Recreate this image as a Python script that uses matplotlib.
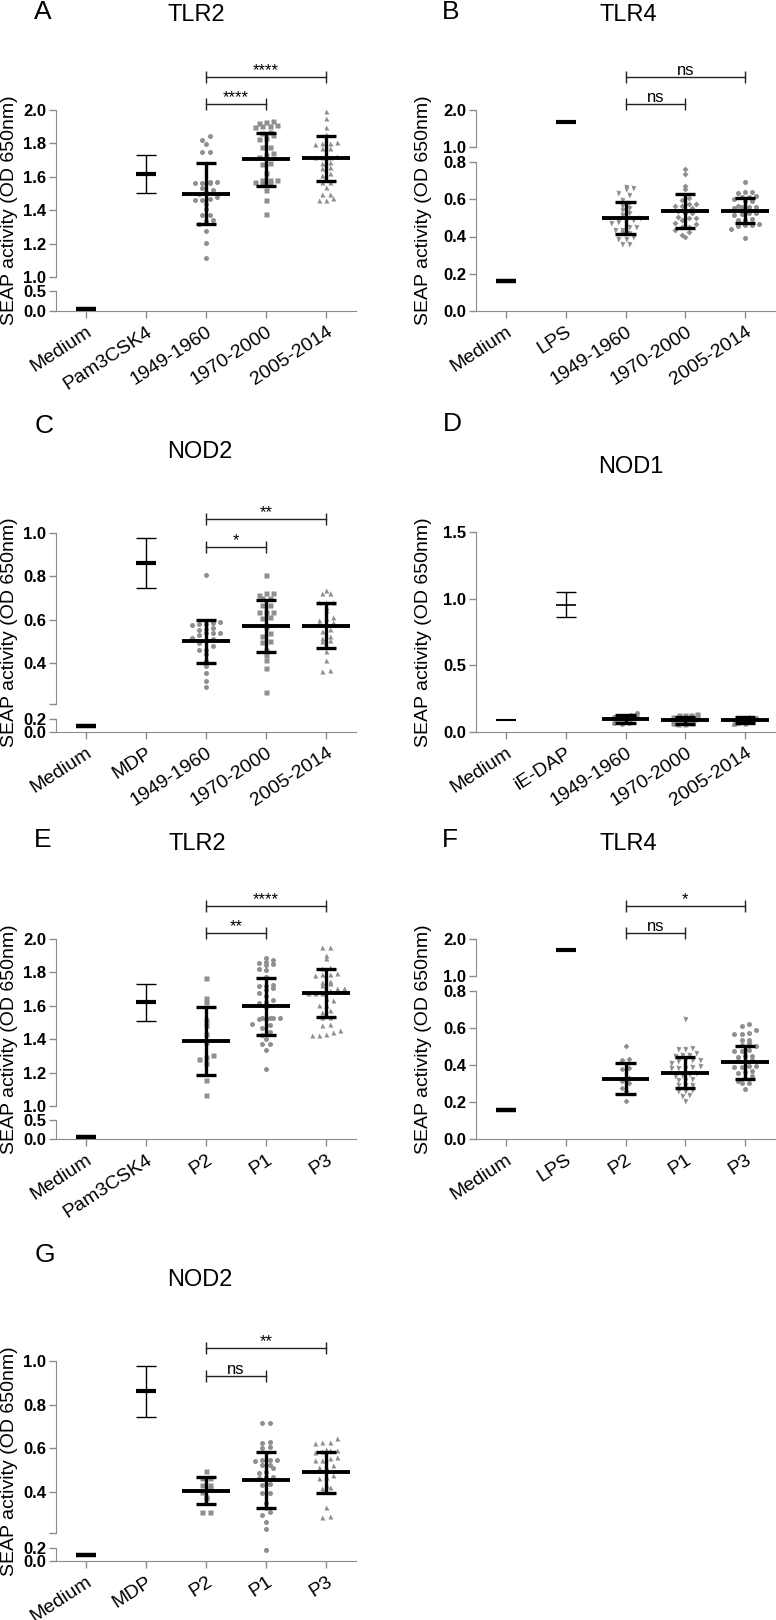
import numpy as np
import matplotlib.pyplot as plt
import matplotlib.transforms as mtrans

plt.rcParams['font.family'] = ['Liberation Sans', 'DejaVu Sans']

# ---------------- data ----------------
yr_labels = ['1949-1960', '1970-2000', '2005-2014']
p_labels = ['P2', 'P1', 'P3']

# A  TLR2
A_labels = ['Medium', 'Pam3CSK4'] + yr_labels
A_ctrl_mean = [0.06, 1.616]
A_ctrl_sd = [0.0, 0.112]
A_g1 = [1.844, 1.82, 1.796, 1.75, 1.75, 1.57, 1.564, 1.57, 1.56, 1.564, 1.51, 1.52, 1.466, 1.464,
        1.46, 1.436, 1.41, 1.37, 1.37, 1.34, 1.336, 1.316, 1.274, 1.206, 1.116, 1.50, 1.48, 1.53]
A_g2 = [1.93, 1.936, 1.924, 1.90, 1.904, 1.904, 1.91, 1.87, 1.864, 1.85, 1.83, 1.824, 1.78, 1.78,
        1.73, 1.74, 1.72, 1.684, 1.676, 1.624, 1.58, 1.58, 1.58, 1.554, 1.56, 1.57, 1.52, 1.46, 1.38]
A_g3 = [1.996, 1.95, 1.90, 1.854, 1.804, 1.81, 1.80, 1.796, 1.77, 1.77, 1.724, 1.72, 1.72, 1.72,
        1.69, 1.684, 1.66, 1.65, 1.62, 1.61, 1.57, 1.57, 1.54, 1.50, 1.50, 1.476, 1.464, 1.46]
A_mean = [1.50, 1.705, 1.71]
A_sd = [0.18, 0.16, 0.135]
A_sig = ['****', '****']

# B  TLR4
B_labels = ['Medium', 'LPS'] + yr_labels
B_ctrl_mean = [0.161, 1.68]
B_ctrl_sd = [0.0, 0.0]
B_g1 = [0.66, 0.665, 0.654, 0.636, 0.624, 0.597, 0.582, 0.552, 0.564, 0.543, 0.525, 0.516, 0.498, 0.489,
        0.489, 0.48, 0.475, 0.453, 0.453, 0.435, 0.435, 0.417, 0.417, 0.396, 0.385, 0.385, 0.36, 0.36]
B_g2 = [0.764, 0.737, 0.669, 0.655, 0.606, 0.597, 0.575, 0.575, 0.565, 0.565, 0.552, 0.539, 0.525, 0.539,
        0.525, 0.507, 0.498, 0.498, 0.489, 0.475, 0.467, 0.453, 0.45, 0.435, 0.426, 0.408, 0.396]
B_g3 = [0.692, 0.637, 0.637, 0.633, 0.615, 0.611, 0.611, 0.593, 0.600, 0.588, 0.561, 0.557, 0.561, 0.565,
        0.552, 0.525, 0.525, 0.521, 0.516, 0.489, 0.489, 0.493, 0.467, 0.462, 0.457, 0.462, 0.439, 0.39]
B_mean = [0.50, 0.537, 0.539]
B_sd = [0.084, 0.093, 0.068]
B_sig = ['ns', 'ns']

# C  NOD2
C_labels = ['Medium', 'MDP'] + yr_labels
C_ctrl_mean = [0.09, 0.862]
C_ctrl_sd = [0.0, 0.115]
C_g1 = [0.806, 0.59, 0.585, 0.58, 0.58, 0.575, 0.56, 0.556, 0.55, 0.538, 0.538, 0.538, 0.53,
        0.515, 0.51, 0.50, 0.492, 0.48, 0.461, 0.461, 0.44, 0.408, 0.385, 0.354, 0.316, 0.288]
C_g2 = [0.806, 0.721, 0.724, 0.714, 0.698, 0.698, 0.668, 0.668, 0.633, 0.637, 0.633, 0.614,
        0.607, 0.576, 0.568, 0.538, 0.522, 0.50, 0.495, 0.461, 0.438, 0.415, 0.377, 0.265]
C_g3 = [0.737, 0.721, 0.721, 0.683, 0.683, 0.683, 0.66, 0.645, 0.614, 0.607, 0.60, 0.591,
        0.584, 0.58, 0.556, 0.545, 0.522, 0.515, 0.507, 0.50, 0.454, 0.415, 0.362, 0.369]
C_mean = [0.50, 0.57, 0.572]
C_sd = [0.10, 0.12, 0.104]
C_sig = ['*', '**']

# D  NOD1
D_labels = ['Medium', 'iE-DAP'] + yr_labels
D_ctrl_mean = [0.09, 0.955]
D_ctrl_sd = [0.0, 0.093]
D_g1 = [0.143, 0.128, 0.122, 0.118, 0.115, 0.112, 0.11, 0.108, 0.105, 0.103, 0.1, 0.098, 0.097, 0.095,
        0.094, 0.092, 0.09, 0.088, 0.086, 0.084, 0.082, 0.08, 0.077, 0.074, 0.07, 0.066, 0.06]
D_g2 = [0.133, 0.13, 0.128, 0.125, 0.115, 0.11, 0.105, 0.1, 0.098, 0.095, 0.093, 0.09, 0.088,
        0.086, 0.084, 0.082, 0.08, 0.078, 0.076, 0.074, 0.072, 0.07, 0.068, 0.065, 0.062, 0.06]
D_g3 = [0.118, 0.115, 0.112, 0.11, 0.106, 0.104, 0.1, 0.098, 0.096, 0.094, 0.092, 0.09,
        0.089, 0.087, 0.085, 0.083, 0.081, 0.079, 0.077, 0.075, 0.072, 0.07, 0.068, 0.065]
D_mean = [0.097, 0.087, 0.09]
D_sd = [0.03, 0.028, 0.024]

# E  TLR2 (P groups)
E_labels = ['Medium', 'Pam3CSK4'] + p_labels
E_ctrl_mean = [0.06, 1.62]
E_ctrl_sd = [0.0, 0.113]
E_g1 = [1.768, 1.648, 1.624, 1.514, 1.484, 1.434, 1.384, 1.294, 1.304, 1.284, 1.26, 1.158, 1.064]
E_g2 = [1.864, 1.888, 1.874, 1.85, 1.844, 1.854, 1.818, 1.814, 1.77, 1.724, 1.72, 1.72, 1.704,
        1.694, 1.674, 1.66, 1.634, 1.624, 1.614, 1.594, 1.528, 1.52, 1.52, 1.524, 1.524, 1.528,
        1.494, 1.484, 1.47, 1.444, 1.424, 1.404, 1.37, 1.37, 1.334, 1.224]
E_g3 = [1.954, 1.954, 1.904, 1.884, 1.834, 1.824, 1.794, 1.79, 1.79, 1.784, 1.744, 1.748, 1.734,
        1.724, 1.704, 1.694, 1.704, 1.674, 1.674, 1.674, 1.634, 1.644, 1.604, 1.604, 1.574, 1.564,
        1.534, 1.534, 1.49, 1.484, 1.454, 1.434, 1.424, 1.428, 1.444]
E_mean = [1.39, 1.598, 1.676]
E_sd = [0.203, 0.17, 0.145]
E_sig = ['**', '****']

# F  TLR4 (P groups)
F_labels = ['Medium', 'LPS'] + p_labels
F_ctrl_mean = [0.159, 1.69]
F_ctrl_sd = [0.0, 0.0]
F_g1 = [0.504, 0.429, 0.432, 0.384, 0.378, 0.33, 0.312, 0.303, 0.276, 0.258, 0.204]
F_g2 = [0.65, 0.486, 0.486, 0.49, 0.456, 0.465, 0.456, 0.45, 0.42, 0.425, 0.429, 0.429, 0.41,
        0.393, 0.384, 0.384, 0.389, 0.384, 0.357, 0.353, 0.348, 0.342, 0.324, 0.321, 0.321,
        0.294, 0.294, 0.294, 0.263, 0.258, 0.24, 0.231, 0.204, 0.258]
F_g3 = [0.623, 0.613, 0.591, 0.569, 0.573, 0.569, 0.537, 0.537, 0.519, 0.51, 0.501, 0.483, 0.474,
        0.474, 0.447, 0.443, 0.447, 0.42, 0.42, 0.425, 0.393, 0.389, 0.393, 0.389, 0.366, 0.36,
        0.357, 0.339, 0.33, 0.312, 0.303, 0.303, 0.27]
F_mean = [0.326, 0.359, 0.416]
F_sd = [0.084, 0.084, 0.089]
F_sig = ['ns', '*']

# G  NOD2 (P groups)
G_labels = ['Medium', 'MDP'] + p_labels
G_ctrl_mean = [0.09, 0.86]
G_ctrl_sd = [0.0, 0.117]
G_g1 = [0.495, 0.461, 0.461, 0.43, 0.43, 0.40, 0.415, 0.369, 0.377, 0.308, 0.308]
G_g2 = [0.717, 0.717, 0.63, 0.625, 0.60, 0.607, 0.545, 0.542, 0.545, 0.545, 0.522, 0.522, 0.507,
        0.492, 0.484, 0.469, 0.461, 0.469, 0.435, 0.43, 0.392, 0.392, 0.346, 0.323, 0.308, 0.293,
        0.262, 0.228, 0.17]
G_g3 = [0.645, 0.63, 0.622, 0.63, 0.594, 0.591, 0.588, 0.584, 0.591, 0.545, 0.561, 0.553, 0.545,
        0.515, 0.522, 0.515, 0.499, 0.476, 0.469, 0.461, 0.43, 0.423, 0.415, 0.328, 0.285, 0.288]
G_mean = [0.405, 0.455, 0.489]
G_sd = [0.06, 0.128, 0.094]
G_sig = ['ns', '**']

# ---------------- drawing ----------------
W, H = 776, 1620
fig = plt.figure(figsize=(W / 100, H / 100), dpi=100)
GREY = '#8c8c8c'
PT_GREY = '#8f8f8f'


def add_px_axes(left, right, top, bottom):
    return fig.add_axes([left / W, 1 - bottom / H, (right - left) / W, (bottom - top) / H])


def swarm_x(vals, center, bin_h, step, max_half=0.42):
    # GraphPad-like scatter: points of similar value are spread sideways
    vals = np.asarray(vals, dtype=float)
    xs = np.full(len(vals), float(center))
    bins = np.round(vals / bin_h).astype(int)
    for b in np.unique(bins):
        idx = np.where(bins == b)[0]
        idx = idx[np.argsort(vals[idx])]
        n = len(idx)
        st = step if n < 2 else min(step, 2 * max_half / (n - 1))
        xs[idx] = center + (np.arange(n) - (n - 1) / 2) * st
    return xs


def fig_text(x, y, s, **kw):
    fig.text(x / W, 1 - y / H, s, ha='center', va='center', **kw)


def draw_panel(letter, title, labels, ctrl_mean, ctrl_sd, groups, g_mean, g_sd, markers, sig,
               left, right, segments, yticks, letter_xy, title_xy, ylab_x, br_off, thin=False):
    axes = []
    for k, (top, bottom, ymin, ymax) in enumerate(segments):
        ax = add_px_axes(left, right, top, bottom)
        ax.set_xlim(-0.5, 4.5)
        ax.set_ylim(ymin, ymax)
        ax.patch.set_alpha(0)
        for sp in ['top', 'right']:
            ax.spines[sp].set_visible(False)
        ax.spines['left'].set_color(GREY)
        ax.spines['bottom'].set_color(GREY)
        last = k == len(segments) - 1
        ax.spines['bottom'].set_visible(last)
        ax.set_yticks(yticks[k])
        ax.set_yticklabels([f'{v:.1f}' if round(v, 1) == v else '' for v in yticks[k]],
                           fontweight='bold')
        ax.tick_params(axis='y', direction='out', length=5, width=1, color=GREY, pad=2,
                       labelsize=12)
        if last:
            ax.set_xticks(range(5))
            ax.set_xticklabels(labels, rotation=33, ha='right', rotation_mode='anchor',
                               fontsize=14)
            ax.tick_params(axis='x', direction='out', length=5, width=1, color=GREY, pad=4)
        else:
            ax.set_xticks([])

        # controls
        med_lw = 1.5 if thin else 3.2
        ax.hlines(ctrl_mean[0], -0.17, 0.17, color='k', lw=med_lw, zorder=4)
        ax.hlines(ctrl_mean[1], 1 - 0.17, 1 + 0.17, color='k', lw=1.2 if thin else 3.0, zorder=4)
        if ctrl_sd[1] > 0:
            lo, hi = ctrl_mean[1] - ctrl_sd[1], ctrl_mean[1] + ctrl_sd[1]
            ax.vlines(1, lo, hi, color='k', lw=1.0, zorder=4)
            ax.hlines([lo, hi], 1 - 0.17, 1 + 0.17, color='k', lw=1.0, zorder=4)

        # groups
        for j, vals in enumerate(groups):
            x0 = 2 + j
            seg = [s for s in segments if s[2] <= g_mean[j] <= s[3]][0]
            ppu = (seg[1] - seg[0]) / (seg[3] - seg[2])
            xs = swarm_x(vals, x0, 6.0 / ppu, 0.12, 0.2 if thin else 0.42)
            ms = 3.0 if markers[j] == 'D' else 3.6
            ax.plot(xs, vals, ls='none', marker=markers[j], ms=ms, color=PT_GREY, mec='none',
                    zorder=2)
            m, s = g_mean[j], g_sd[j]
            ax.hlines(m, x0 - 0.4, x0 + 0.4, color='k', lw=2.8, zorder=4)
            ax.vlines(x0, m - s, m + s, color='k', lw=2.4, zorder=4)
            ax.hlines([m - s, m + s], x0 - 0.17, x0 + 0.17, color='k', lw=2.4, zorder=4)
        axes.append(ax)

    # significance brackets on the top segment
    ax = axes[0]
    top, bottom = segments[0][0], segments[0][1]
    tr = mtrans.blended_transform_factory(ax.transData, ax.transAxes)
    for (x1, x2), s, off in zip([(2, 3), (2, 4)], sig, br_off):
        yf = 1 + off / (bottom - top)
        ax.plot([x1, x2], [yf, yf], transform=tr, color='#222222', lw=1, marker='|', ms=8,
                mew=1, clip_on=False, zorder=5)
        ax.annotate(s, xy=((x1 + x2) / 2, yf), xycoords=tr, xytext=(0, 1.5),
                    textcoords='offset points', ha='center', va='baseline', fontsize=12)

    fig_text(*letter_xy, letter, fontsize=19)
    fig_text(*title_xy, title, fontsize=17)
    ymid = (segments[0][0] + segments[-1][1]) / 2
    fig_text(ylab_x, ymid, 'SEAP activity (OD 650nm)', rotation=90, fontsize=14)


mk_yr = ['o', 's', '^']
t_big = [[1.0, 1.2, 1.4, 1.6, 1.8, 2.0], [0.0, 0.5]]
t_tlr4 = [[1.0, 2.0], [0.0, 0.2, 0.4, 0.6, 0.8]]
t_nod2 = [[0.21, 0.4, 0.6, 0.8, 1.0], [0.0, 0.2]]

draw_panel('A', 'TLR2', A_labels, A_ctrl_mean, A_ctrl_sd, [A_g1, A_g2, A_g3], A_mean, A_sd,
           mk_yr, A_sig, 56, 356, [(110, 277, 1.0, 2.0), (291, 311, 0.0, 0.5)], t_big,
           (43, 12), (196, 15), 10, [6, 33])
draw_panel('B', 'TLR4', B_labels, B_ctrl_mean, B_ctrl_sd, [B_g1, B_g2, B_g3], B_mean, B_sd,
           ['v', 'D', 'o'], B_sig, 476, 775, [(110, 147, 1.0, 2.0), (162, 311, 0.0, 0.8)],
           t_tlr4, (451, 12), (628, 15), 424, [6, 33])
draw_panel('C', 'NOD2', C_labels, C_ctrl_mean, C_ctrl_sd, [C_g1, C_g2, C_g3], C_mean, C_sd,
           mk_yr, C_sig, 56, 356, [(533, 704, 0.21, 1.0), (719, 732, 0.0, 0.2)], t_nod2,
           (44, 426), (200, 452), 10, [-14, 14])
draw_panel('D', 'NOD1', D_labels, D_ctrl_mean, D_ctrl_sd, [D_g1, D_g2, D_g3], D_mean, D_sd,
           mk_yr, [], 476, 775, [(532, 732, 0.0, 1.5)], [[0.0, 0.5, 1.0, 1.5]],
           (452, 424), (631, 467), 424, [], thin=True)
draw_panel('E', 'TLR2', E_labels, E_ctrl_mean, E_ctrl_sd, [E_g1, E_g2, E_g3], E_mean, E_sd,
           ['s', 'o', '^'], E_sig, 56, 356, [(939, 1106, 1.0, 2.0), (1120, 1139, 0.0, 0.5)],
           t_big, (43, 840), (197, 844), 10, [6, 33])
draw_panel('F', 'TLR4', F_labels, F_ctrl_mean, F_ctrl_sd, [F_g1, F_g2, F_g3], F_mean, F_sd,
           ['D', 'v', 'o'], F_sig, 476, 775, [(939, 976, 1.0, 2.0), (991, 1139, 0.0, 0.8)],
           t_tlr4, (450, 840), (628, 844), 424, [6, 33])
draw_panel('G', 'NOD2', G_labels, G_ctrl_mean, G_ctrl_sd, [G_g1, G_g2, G_g3], G_mean, G_sd,
           ['s', 'o', '^'], G_sig, 56, 356, [(1361, 1533, 0.21, 1.0), (1548, 1561, 0.0, 0.2)],
           t_nod2, (45, 1255), (200, 1280), 10, [-15, 13])

fig.savefig('out.png', dpi=100)
